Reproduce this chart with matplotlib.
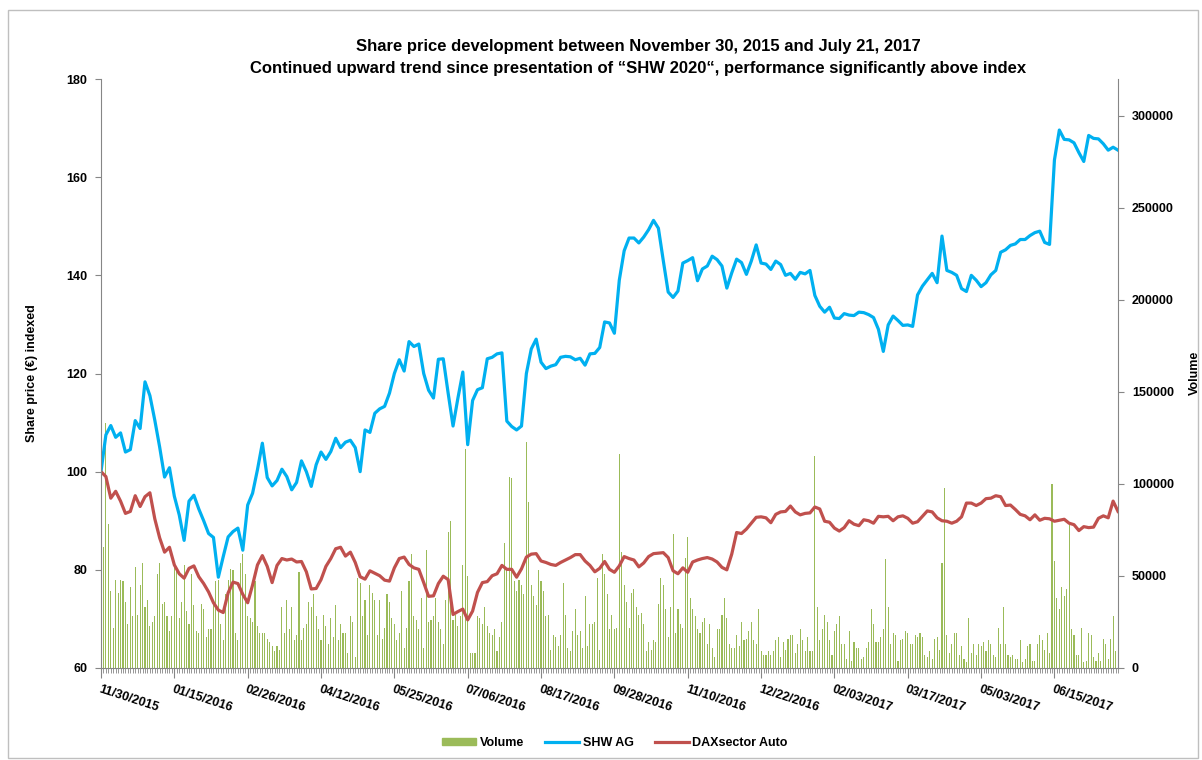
import matplotlib
matplotlib.use("Agg")
import matplotlib.pyplot as plt
import matplotlib.transforms as mtransforms
from matplotlib.patches import Patch, Rectangle
from matplotlib.lines import Line2D
import numpy as np

plt.rcParams["font.family"] = ["Liberation Sans", "DejaVu Sans"]
plt.rcParams["font.weight"] = "bold"

# trading-day axis: one label every 30 trading days
tick_labels = ["11/30/2015", "01/15/2016", "02/26/2016", "04/12/2016", "05/25/2016",
               "07/06/2016", "08/17/2016", "09/28/2016", "11/10/2016", "12/22/2016",
               "02/03/2017", "03/17/2017", "05/03/2017", "06/15/2017"]
n_days = 417  # 11/30/2015 .. 07/21/2017

# indexed prices, read every second trading day
shw = [100.0, 107.5, 109.4, 107.0, 107.9, 104.0, 104.5, 110.4, 108.8, 118.3,
       115.5, 110.5, 105.0, 98.9, 100.8, 95.0, 91.2, 86.0, 94.0, 95.2,
       92.4, 90.0, 87.4, 86.6, 78.5, 82.7, 86.7, 87.8, 88.5, 84.0,
       93.2, 95.6, 100.4, 105.8, 98.8, 97.1, 98.2, 100.5, 99.0, 96.3,
       97.8, 102.2, 100.0, 97.0, 101.4, 104.0, 102.5, 104.1, 106.8, 104.9,
       106.0, 106.4, 104.9, 100.0, 108.5, 108.0, 111.9, 112.8, 113.3, 116.0,
       120.0, 122.8, 120.5, 126.5, 125.5, 126.0, 120.0, 116.6, 115.0, 122.9,
       123.0, 116.0, 109.3, 115.0, 120.3, 105.5, 114.5, 116.7, 117.1, 123.0,
       123.3, 124.0, 124.2, 110.3, 109.2, 108.5, 109.3, 120.0, 125.0, 127.0,
       122.3, 121.0, 121.5, 121.8, 123.3, 123.5, 123.4, 122.8, 123.1, 121.7,
       124.0, 124.1, 125.3, 130.5, 130.3, 128.2, 139.0, 145.0, 147.6, 147.6,
       146.6, 147.8, 149.3, 151.2, 149.6, 143.0, 136.6, 135.5, 136.8, 142.5,
       143.0, 143.6, 138.9, 141.3, 141.9, 143.9, 143.2, 141.9, 137.4, 140.5,
       143.3, 142.6, 140.2, 142.9, 146.2, 142.5, 142.3, 141.2, 142.9, 142.2,
       140.0, 140.4, 139.2, 140.6, 140.3, 141.0, 135.9, 133.7, 132.5, 133.5,
       131.3, 131.2, 132.2, 131.9, 131.8, 132.5, 132.4, 132.0, 131.4, 129.0,
       124.5, 129.9, 131.7, 130.8, 129.8, 129.9, 129.6, 136.0, 137.8, 139.1,
       140.4, 138.5, 148.0, 141.0, 140.6, 140.0, 137.3, 136.7, 140.0, 139.0,
       137.7, 138.5, 140.1, 141.0, 144.7, 145.2, 146.1, 146.4, 147.3, 147.3,
       148.1, 148.7, 149.0, 146.7, 146.3, 163.5, 169.6, 167.7, 167.6, 167.0,
       165.0, 163.2, 168.5, 167.9, 167.8, 166.8, 165.5, 166.1, 165.5]

dax = [100.0, 99.0, 94.6, 96.0, 94.0, 91.5, 91.9, 95.1, 92.9, 94.9,
       95.7, 90.4, 86.5, 83.6, 84.6, 81.0, 79.2, 78.3, 80.3, 80.8,
       78.6, 77.2, 75.5, 73.3, 71.8, 71.3, 75.3, 77.5, 77.2, 75.0,
       73.3, 76.9, 81.0, 82.9, 80.7, 77.4, 80.9, 82.3, 82.0, 82.2,
       81.6, 81.7, 79.6, 76.1, 76.2, 78.0, 80.7, 82.3, 84.3, 84.6,
       82.8, 83.6, 81.5, 78.6, 78.1, 79.8, 79.3, 78.8, 77.9, 77.7,
       80.4, 82.3, 82.6, 81.1, 80.4, 80.1, 77.4, 74.6, 74.7, 77.2,
       78.7, 78.0, 70.9, 71.5, 72.0, 69.8, 71.6, 75.4, 77.4, 77.6,
       78.8, 79.2, 80.9, 80.1, 80.1, 78.5, 80.2, 82.6, 83.2, 83.3,
       81.8, 81.5, 81.1, 80.9, 81.5, 82.0, 82.5, 83.1, 83.1, 81.8,
       80.9, 79.6, 80.3, 81.7, 80.1, 79.5, 80.8, 82.7, 82.3, 82.0,
       80.6, 81.4, 82.7, 83.3, 83.4, 83.5, 82.5, 79.8, 79.2, 80.4,
       79.5, 81.6, 82.0, 82.3, 82.5, 82.2, 81.6, 80.5, 80.0, 83.2,
       87.6, 87.4, 88.3, 89.5, 90.7, 90.8, 90.6, 89.6, 91.3, 91.8,
       91.9, 93.0, 91.8, 91.2, 91.5, 91.6, 92.8, 92.4, 89.9, 89.7,
       88.5, 87.9, 88.6, 90.0, 89.3, 89.0, 90.2, 90.0, 89.5, 90.9,
       90.8, 90.9, 90.0, 90.8, 91.0, 90.5, 89.5, 89.8, 90.9, 92.0,
       91.8, 90.6, 90.0, 89.9, 89.5, 89.9, 90.8, 93.6, 93.6, 93.1,
       93.6, 94.5, 94.6, 95.1, 94.9, 93.1, 93.2, 92.3, 91.3, 91.0,
       90.2, 91.2, 90.1, 90.5, 90.4, 89.9, 90.1, 90.3, 89.5, 89.2,
       88.0, 88.8, 88.6, 88.7, 90.5, 91.0, 90.6, 94.0, 91.9]

# daily volume in thousand shares
volume = [28, 66, 133, 78, 42, 22, 48, 41, 48, 47, 36, 24, 44, 28, 55, 29, 45, 57, 33, 37,
          23, 25, 28, 51, 57, 35, 36, 28, 20, 28, 56, 54, 27, 36, 56, 31, 24, 51, 34, 20,
          19, 35, 32, 17, 21, 21, 34, 47, 48, 24, 15, 40, 48, 54, 53, 19, 15, 57, 62, 51,
          28, 27, 25, 47, 23, 19, 19, 19, 16, 14, 12, 9, 12, 10, 33, 19, 37, 21, 33, 15,
          18, 52, 15, 22, 24, 36, 33, 40, 28, 21, 15, 29, 23, 13, 27, 17, 34, 15, 24, 19,
          19, 8, 28, 25, 6, 49, 46, 28, 37, 18, 45, 41, 37, 18,
          37, 16, 22, 40, 36, 27, 24, 15, 19, 42, 11, 22, 47, 62, 28, 26, 21, 38, 11, 64,
          25, 26, 28, 38, 25, 21, 13, 37, 74, 80, 26, 29, 23, 28, 56, 119, 50, 8, 8, 8,
          28, 27, 24, 33, 23, 19, 18, 21, 9, 17, 25, 68, 53, 104, 103, 47, 42, 48, 45, 40,
          123, 90, 45, 39, 34, 53, 47, 42, 28, 29, 10, 18, 17, 12, 18, 46, 29, 11, 9, 20,
          32, 18, 20, 11, 39, 12, 24, 24, 25, 49, 10, 62, 51, 40, 21, 29, 21, 22, 116, 63,
          45, 36, 22, 41, 43, 33, 29, 30, 24, 9, 14, 10, 15, 14, 35,
          49, 45, 32, 17, 33, 73, 19, 32, 24, 22, 60, 71, 38, 32, 28, 21, 19, 25, 27, 13,
          24, 11, 6, 21, 21, 29, 38, 27, 13, 11, 11, 18, 12, 25, 15, 16, 20, 25, 15, 13,
          32, 9, 7, 7, 9, 7, 9, 15, 17, 6, 14, 10, 16, 18, 18, 8, 13, 21, 15, 9,
          17, 9, 9, 115, 33, 15, 21, 29, 25, 15, 7, 20, 24, 28, 13, 13, 5, 20, 4, 14,
          11, 11, 5, 6, 11, 14, 32, 24, 14, 14, 17, 21, 59, 33, 13, 19, 18, 4, 15, 16,
          20, 19, 13, 13, 18, 17, 19, 17, 7, 6, 9, 5, 16, 17, 10,
          57, 98, 18, 8, 13, 19, 19, 7, 12, 5, 3, 27, 8, 13, 7, 13, 12, 14, 9, 15,
          13, 7, 6, 22, 13, 33, 13, 7, 6, 7, 5, 5, 15, 3, 5, 12, 13, 4, 4, 13,
          18, 15, 10, 19, 8, 100, 58, 38, 32, 44, 39, 43, 79, 21, 18, 7, 7, 22, 3, 4,
          19, 18, 6, 4, 8, 4, 16, 13, 5, 16, 28, 9]

grey = "#868686"
blue = "#00B0F0"
red = "#C0504D"
green = "#9BBB59"

fig = plt.figure(figsize=(12.02, 7.6), dpi=100)
ax = fig.add_axes([101 / 1202, 1 - 668 / 760, 1017 / 1202, 589 / 760])
ax2 = ax.twinx()

ax2.bar(np.arange(len(volume)), np.array(volume) * 1000, width=0.45, color=green, linewidth=0)
x_line = np.arange(0, n_days, 2)
ax.plot(x_line, shw, color=blue, lw=2.3, solid_joinstyle="round")
ax.plot(x_line, dax, color=red, lw=2.3, solid_joinstyle="round")

# lines above the volume bars
ax.set_zorder(ax2.get_zorder() + 1)
ax.patch.set_visible(False)

ax.set_xlim(0, n_days - 1)
ax.set_ylim(60, 180)
ax.set_yticks(range(60, 181, 20))
ax2.set_ylim(0, 320000)
ax2.set_yticks(range(0, 300001, 50000))

ax.set_xticks(np.arange(0, 30 * len(tick_labels), 30))
ax.set_xticks(np.arange(0, n_days), minor=True)
ax.set_xticklabels(tick_labels, rotation=-18, ha="left", va="top", rotation_mode="anchor")
shift = mtransforms.ScaledTranslation(4 / 100, 0, fig.dpi_scale_trans)
for lbl in ax.get_xticklabels():
    lbl.set_transform(lbl.get_transform() + shift)

for a in (ax, ax2):
    for s in a.spines.values():
        s.set_color(grey)
    a.spines["top"].set_visible(False)
ax.spines["right"].set_visible(False)
ax2.spines["left"].set_visible(False)
ax2.spines["bottom"].set_visible(False)

ax.tick_params(axis="y", direction="out", length=4, color=grey, labelsize=9, pad=6)
ax.tick_params(axis="x", which="major", direction="out", length=7, color=grey, labelsize=9, pad=4)
ax.tick_params(axis="x", which="minor", direction="out", length=3.5, color=grey, width=0.6)
ax2.tick_params(axis="y", direction="out", length=4, color=grey, labelsize=9, pad=6)

fig.text(32 / 1202, 1 - 373 / 760, "Share price (€) indexed", rotation=90,
         ha="center", va="center", fontsize=9)
fig.text(1195 / 1202, 1 - 373 / 760, "Volume", rotation=90,
         ha="center", va="center", fontsize=9)

fig.text(638 / 1202, 1 - 47 / 760, "Share price development between November 30, 2015 and July 21, 2017",
         ha="center", va="center", fontsize=12)
fig.text(638 / 1202, 1 - 68 / 760,
         "Continued upward trend since presentation of \u201cSHW 2020\u201c, performance significantly above index",
         ha="center", va="center", fontsize=12)

handles = [Patch(color=green), Line2D([], [], color=blue, lw=2.3), Line2D([], [], color=red, lw=2.3)]
fig.legend(handles, ["Volume", "SHW AG", "DAXsector Auto"], loc="center",
           bbox_to_anchor=(615 / 1202, 1 - 743 / 760), ncol=3, frameon=False,
           fontsize=9, handlelength=2.7, handleheight=0.5, columnspacing=1.7, handletextpad=0.3)

fig.patches.append(Rectangle((8 / 1202, 0.002), 1190 / 1202, 0.985, transform=fig.transFigure,
                             fill=False, edgecolor="#BFBFBF", linewidth=1))

fig.savefig("out.png", dpi=100)
